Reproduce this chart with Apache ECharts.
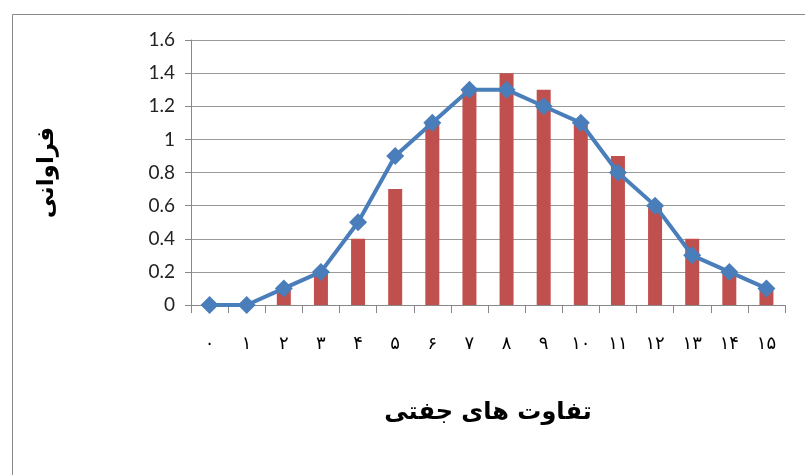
<!DOCTYPE html>
<html><head><meta charset="utf-8">
<script src="https://cdn.jsdelivr.net/npm/echarts@6/dist/echarts.min.js"></script>
<style>html,body{margin:0;padding:0;background:#fff}#c{width:805px;height:475px}</style>
</head><body><div id="c"></div>
<script>
const categories = ['۰','۱','۲','۳','۴','۵','۶','۷','۸','۹','۱۰','۱۱','۱۲','۱۳','۱۴','۱۵'];
const barValues = [0, 0, 0.1, 0.2, 0.4, 0.7, 1.1, 1.3, 1.4, 1.3, 1.1, 0.9, 0.6, 0.4, 0.2, 0.1];
const lineValues = [0, 0, 0.1, 0.2, 0.5, 0.9, 1.1, 1.3, 1.3, 1.2, 1.1, 0.8, 0.6, 0.3, 0.2, 0.1];
const xTitle = 'تفاوت های جفتی';
const yTitle = 'فراوانی';

const chart = echarts.init(document.getElementById('c'), null, {renderer: 'canvas'});
chart.setOption({
  animation: false,
  backgroundColor: '#fff',
  graphic: [{
    type: 'rect', shape: {x: 12.5, y: 14.5, width: 900, height: 600},
    style: {fill: 'none', stroke: '#888', lineWidth: 1}, silent: true, z: -10
  }],
  grid: {left: 191, top: 40, right: 20, bottom: 170, containLabel: false},
  xAxis: {
    type: 'category', data: categories,
    name: xTitle, nameLocation: 'middle', nameGap: 96,
    nameTextStyle: {fontFamily: 'DejaVu Sans', fontWeight: 'bold', fontSize: 24, color: '#000'},
    axisLine: {show: true, lineStyle: {color: '#888', width: 1}},
    axisTick: {show: true, length: 8, alignWithLabel: false, lineStyle: {color: '#888'}},
    axisLabel: {margin: 30, fontFamily: 'DejaVu Sans', fontSize: 18, color: '#000', interval: 0},
    splitLine: {show: false}
  },
  yAxis: {
    type: 'value', min: 0, max: 1.6, interval: 0.2,
    name: yTitle, nameLocation: 'middle', nameGap: 132, nameRotate: 90,
    nameTextStyle: {fontFamily: 'DejaVu Sans', fontWeight: 'bold', fontSize: 23, color: '#000'},
    axisLine: {show: true, lineStyle: {color: '#888', width: 1}},
    axisTick: {show: true, length: 6, lineStyle: {color: '#888'}},
    axisLabel: {margin: 16, fontFamily: 'Lato', fontSize: 19, color: '#222'},
    splitLine: {show: true, lineStyle: {color: '#999', width: 1}}
  },
  series: [
    {type: 'bar', data: barValues, barWidth: 14, itemStyle: {color: '#C0504D'}, z: 2},
    {type: 'line', data: lineValues, symbol: 'diamond', symbolSize: 18,
     lineStyle: {color: '#4A7EBB', width: 4}, itemStyle: {color: '#4A7EBB'}, z: 3}
  ]
});
</script></body></html>
